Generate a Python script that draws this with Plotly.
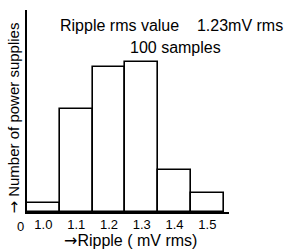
import plotly.graph_objects as go

ripple_bins = [1.0, 1.1, 1.2, 1.3, 1.4, 1.5]
tick_labels = ["1.0", "1.1", "1.2", "1.3", "1.4", "1.5"]
counts = [2, 22, 31, 32, 9, 4]

FONT = "Liberation Sans, Arial, sans-serif"
ARROW = '<span style="font-family:DejaVu Sans">→</span>'

fig = go.Figure()
fig.add_trace(go.Bar(
    x=ripple_bins, y=counts, width=0.1,
    marker=dict(color="white", line=dict(color="black", width=1.6)),
    showlegend=False, hoverinfo="skip",
))

fig.update_layout(
    width=285, height=250,
    margin=dict(l=27, r=56, t=10, b=38),
    plot_bgcolor="white", paper_bgcolor="white",
    font=dict(family=FONT, color="black", size=13),
    bargap=0,
    xaxis=dict(range=[0.95, 1.566], showline=True, linecolor="black", linewidth=1.6,
               showgrid=False, zeroline=False, ticks="",
               tickvals=ripple_bins, ticktext=tick_labels,
               tickfont=dict(size=13)),
    yaxis=dict(range=[0, 43.2], showline=True, linecolor="black", linewidth=1.6,
               showgrid=False, zeroline=False, ticks="", showticklabels=False),
    annotations=[
        dict(text="0", xref="paper", yref="paper", x=-0.03, y=0, yshift=-14,
             xanchor="center", yanchor="middle", showarrow=False, font=dict(size=13)),
        dict(text=ARROW + "Ripple ( mV rms)", xref="paper", yref="paper", x=0.51, y=0, yshift=-28,
             xanchor="center", yanchor="middle", showarrow=False, font=dict(size=16)),
        dict(text=ARROW + " Number of power supplies", xref="paper", yref="paper", x=-0.064, y=0.463,
             xanchor="center", yanchor="middle",
             textangle=-90, showarrow=False, font=dict(size=15)),
        dict(text="Ripple rms value&nbsp;&nbsp;&nbsp;&nbsp;1.23mV rms", xref="paper", yref="paper",
             x=0.155, y=0.921, xanchor="left", yanchor="middle", showarrow=False,
             font=dict(size=16)),
        dict(text="100 samples", xref="paper", yref="paper",
             x=0.733, y=0.812, xanchor="center", yanchor="middle", showarrow=False,
             font=dict(size=16)),
    ],
)

fig.write_html(
    "out.html",
    config={"displayModeBar": False},
    post_script="document.body.style.margin='0';document.documentElement.style.overflow='hidden';",
)
